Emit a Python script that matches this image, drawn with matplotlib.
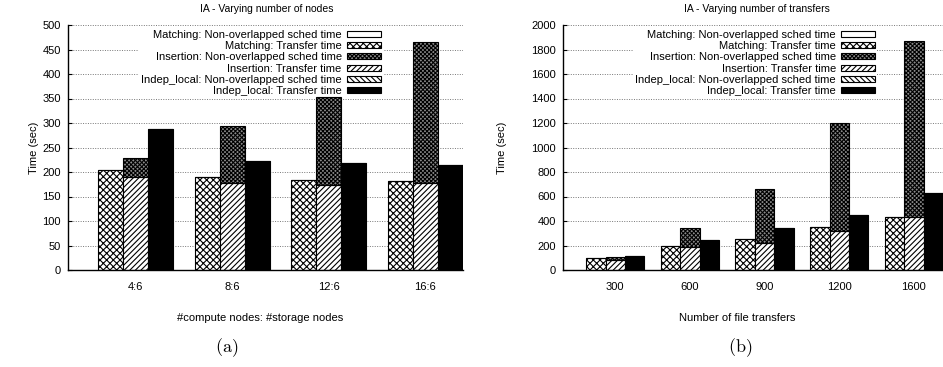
import matplotlib
matplotlib.use("Agg")
import matplotlib.pyplot as plt
from matplotlib.patches import Patch
import numpy as np

plt.rcParams["font.family"] = ["Liberation Sans", "DejaVu Sans"]
plt.rcParams["font.size"] = 8
plt.rcParams["hatch.linewidth"] = 0.8
plt.rcParams["mathtext.fontset"] = "cm"

# (a) varying number of nodes
node_labels = ["4:6", "8:6", "12:6", "16:6"]
node_match_transfer = [205, 190, 184, 182]
node_match_sched = [0, 0, 0, 0]
node_ins_transfer = [190, 177, 173, 177]
node_ins_sched = [38, 116, 181, 289]
node_indep_transfer = [287, 222, 218, 215]
node_indep_sched = [0, 0, 0, 0]

# (b) varying number of transfers
xfer_labels = ["300", "600", "900", "1200", "1600"]
xfer_match_transfer = [95, 196, 250, 348, 435]
xfer_match_sched = [0, 0, 0, 0, 0]
xfer_ins_transfer = [82, 185, 223, 321, 435]
xfer_ins_sched = [27, 158, 436, 877, 1437]
xfer_indep_transfer = [117, 245, 345, 446, 631]
xfer_indep_sched = [0, 0, 0, 0, 0]

legend_names = [
    "Matching: Non-overlapped sched time",
    "Matching: Transfer time",
    "Insertion: Non-overlapped sched time",
    "Insertion: Transfer time",
    "Indep_local: Non-overlapped sched time",
    "Indep_local: Transfer time",
]
# (facecolor, hatch) for each legend entry
styles = [
    ("white", None),
    ("white", "xxxxx"),
    ("#8a8a8a", "xxxxxxxx"),
    ("white", "//////"),
    ("white", "\\\\\\\\\\\\"),
    ("black", None),
]


def draw(ax, labels, stacks, title, xlabel, ymax, ystep, leg_x, title_x, xlab_x, ylab_x):
    x = np.arange(len(labels))
    w = 0.26
    for k, (transfer, sched) in enumerate(stacks):
        off = (k - 1) * w
        fc_s, h_s = styles[2 * k]
        fc_t, h_t = styles[2 * k + 1]
        ax.bar(x + off, transfer, w, color=fc_t, hatch=h_t, edgecolor="black",
               linewidth=0.8, zorder=2)
        ax.bar(x + off, sched, w, bottom=transfer, color=fc_s, hatch=h_s,
               edgecolor="black", linewidth=0.8, zorder=2)

    ax.set_xlim(-0.70, len(labels) - 1 + 0.39)
    ax.set_ylim(0, ymax)
    ax.set_yticks(np.arange(0, ymax + 1, ystep))
    ax.set_xticks(x)
    ax.set_xticklabels(labels)
    ax.tick_params(axis="x", length=0, pad=9)
    ax.tick_params(axis="y", direction="in", length=3, pad=5)
    ax.grid(axis="y", linestyle=(0, (1, 1.5)), color="#777777", linewidth=0.7, zorder=0)
    ax.set_axisbelow(True)
    for s in ("top", "right"):
        ax.spines[s].set_visible(False)
    ax.spines["left"].set_linewidth(1.0)
    ax.spines["bottom"].set_linewidth(1.0)

    ax.set_title(title, x=title_x, pad=9, fontsize=7.5)
    ax.set_xlabel(xlabel)
    ax.xaxis.set_label_coords(xlab_x, -0.175)
    ax.set_ylabel("Time (sec)")
    ax.yaxis.set_label_coords(ylab_x, 0.5)

    handles = [Patch(facecolor=fc, hatch=h, edgecolor="black", linewidth=0.8)
               for fc, h in styles]
    leg = ax.legend(handles, legend_names, loc="upper right",
                    bbox_to_anchor=(leg_x, 0.99), markerfirst=False,
                    handlelength=3.0, handleheight=0.45, handletextpad=0.5,
                    labelspacing=0.12, borderpad=0.2, borderaxespad=0,
                    frameon=True, fancybox=False, framealpha=1, fontsize=8)
    leg.get_frame().set_edgecolor("none")
    # key sits above the grid but behind the bars
    leg.set_zorder(1)


fig = plt.figure(figsize=(9.43, 3.67), dpi=100)
ax1 = fig.add_axes([68 / 943, 97 / 367, 395 / 943, 245 / 367])
ax2 = fig.add_axes([563 / 943, 97 / 367, 380 / 943, 245 / 367])

draw(ax1, node_labels,
     [(node_match_transfer, node_match_sched),
      (node_ins_transfer, node_ins_sched),
      (node_indep_transfer, node_indep_sched)],
     "IA - Varying number of nodes", "#compute nodes: #storage nodes",
     500, 50, 0.797, 0.504, 0.486, -0.073)
draw(ax2, xfer_labels,
     [(xfer_match_transfer, xfer_match_sched),
      (xfer_ins_transfer, xfer_ins_sched),
      (xfer_indep_transfer, xfer_indep_sched)],
     "IA - Varying number of transfers", "Number of file transfers",
     2000, 200, 0.826, 0.51, 0.458, -0.147)

fig.text(227 / 943, 1 - 348 / 367, r"$\mathrm{(a)}$", ha="center", va="center", fontsize=13)
fig.text(740 / 943, 1 - 348 / 367, r"$\mathrm{(b)}$", ha="center", va="center", fontsize=13)

fig.savefig("out.png", dpi=100)
